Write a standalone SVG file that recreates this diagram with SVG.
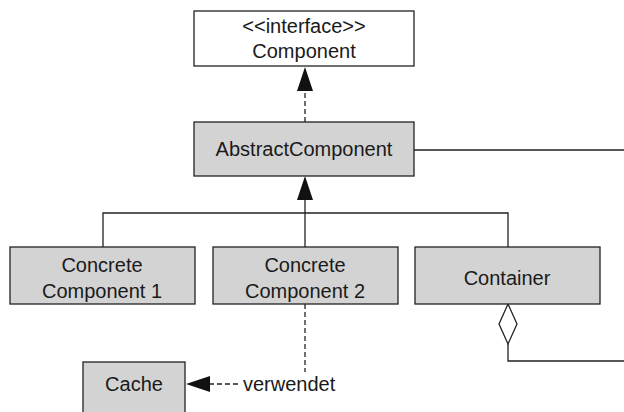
<svg xmlns="http://www.w3.org/2000/svg" width="624" height="412" viewBox="0 0 624 412">
  <style>
    .box { fill: #d3d3d3; stroke: #222; stroke-width: 1.3; }
    .iface { fill: #fff; stroke: #222; stroke-width: 1.3; }
    .lbl { font-family: "Liberation Sans", Arial, sans-serif; font-size: 20px; fill: #1a1a1a; text-anchor: middle; }
    .line { fill: none; stroke: #222; stroke-width: 1.3; }
    .dash { fill: none; stroke: #222; stroke-width: 1.3; stroke-dasharray: 5 3; }
    .head { fill: #111; stroke: none; }
  </style>

  <!-- connectors -->
  <g id="connectors">
    <!-- realization: AbstractComponent -> Component -->
    <line class="dash" x1="305" y1="122" x2="305" y2="90"/>
    <polygon class="head" points="305,67 297,91 313,91"/>
    <!-- generalization tree -->
    <polyline class="line" points="103,247 103,213 508,213 508,247"/>
    <line class="line" x1="305" y1="247" x2="305" y2="199"/>
    <polygon class="head" points="305,176 297,200 313,200"/>
    <!-- AbstractComponent to right edge -->
    <line class="line" x1="414" y1="150" x2="624" y2="150"/>
    <!-- aggregation from Container -->
    <polygon points="508,304 517,324 508,344 499,324" fill="#fff" stroke="#222" stroke-width="1.3"/>
    <polyline class="line" points="508,344 508,361 624,361"/>
    <!-- usage: Concrete Component 2 -> Cache -->
    <line class="dash" x1="305" y1="304" x2="305" y2="372"/>
    <line class="dash" x1="209" y1="384" x2="240" y2="384"/>
    <polygon class="head" points="186,384 210,376 210,392"/>
    <text class="lbl" x="243" y="391" style="text-anchor:start">verwendet</text>
  </g>

  <g id="component">
    <rect class="iface" x="194" y="11" width="220" height="55"/>
    <text class="lbl" x="304" y="33">&lt;&lt;interface&gt;&gt;</text>
    <text class="lbl" x="304" y="58">Component</text>
  </g>

  <g id="abstract-component">
    <rect class="box" x="194" y="122" width="220" height="54"/>
    <text class="lbl" x="304" y="156">AbstractComponent</text>
  </g>

  <g id="concrete-component-1">
    <rect class="box" x="10" y="247" width="185" height="57"/>
    <text class="lbl" x="102" y="272">Concrete</text>
    <text class="lbl" x="102" y="298">Component 1</text>
  </g>

  <g id="concrete-component-2">
    <rect class="box" x="213" y="247" width="185" height="57"/>
    <text class="lbl" x="305" y="272">Concrete</text>
    <text class="lbl" x="305" y="298">Component 2</text>
  </g>

  <g id="container">
    <rect class="box" x="415" y="247" width="185" height="57"/>
    <text class="lbl" x="507" y="285">Container</text>
  </g>

  <g id="cache">
    <rect class="box" x="83" y="362" width="102" height="60"/>
    <text class="lbl" x="134" y="391">Cache</text>
  </g>
</svg>
